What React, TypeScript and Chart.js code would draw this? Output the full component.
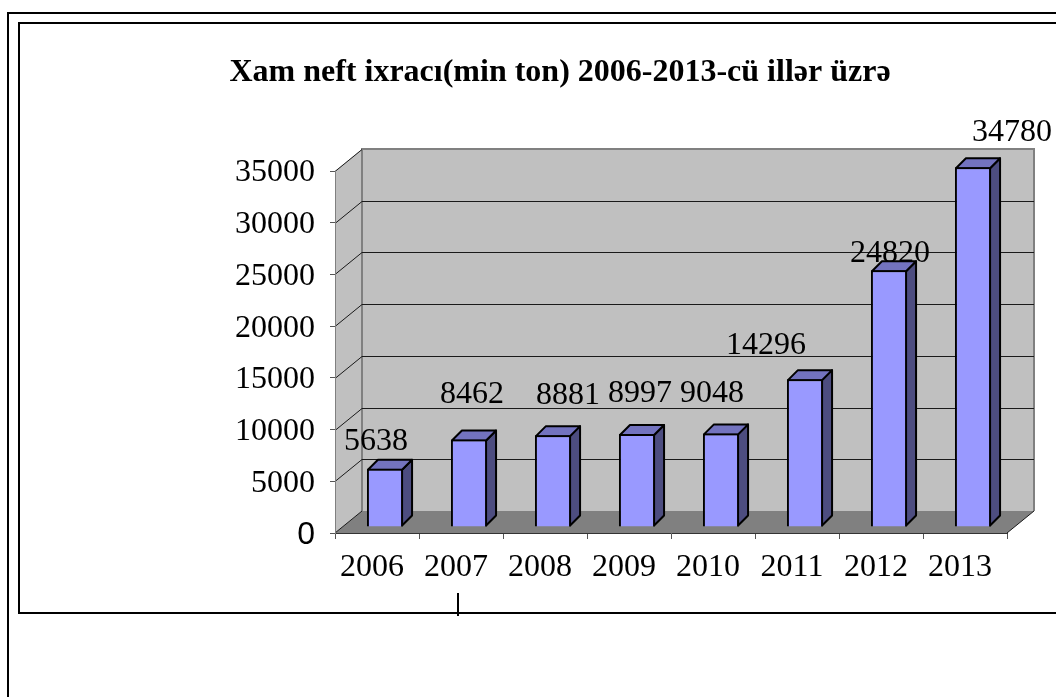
import React, { useEffect, useRef } from "react";
import { Chart, registerables } from "chart.js";

Chart.register(...registerables);

const categories = ["2006", "2007", "2008", "2009", "2010", "2011", "2012", "2013"];
const exportValues = [5638, 8462, 8881, 8997, 9048, 14296, 24820, 34780];
const yTicks = [0, 5000, 10000, 15000, 20000, 25000, 30000, 35000];
const titleText = "Xam neft ixracı(min ton) 2006-2013-cü illər üzrə";

// hand-placed label offsets from the top-centre of each bar, as in the source
const labelNudge = [
  [-9, -28], [3, -46], [15, -41], [3, -41], [-9, -41], [-39, -35], [1, -18], [39, -36],
];

const SERIF = "'Liberation Serif', serif";
const SANS = "'Liberation Sans', sans-serif";
const WALL = { dx: 27, dy: 22 };
const BAR_SHIFT = { dx: 8, dy: -6 };
const DEPTH = { dx: 10, dy: 10 };

const scene = {
  id: "scene",
  beforeDraw(chart: any) {
    const { ctx } = chart;
    const { left, right, top, bottom } = chart.chartArea;
    const y = chart.scales.y;
    ctx.save();
    ctx.fillStyle = "#fff";
    ctx.fillRect(0, 0, chart.width, chart.height);
    // page frames
    ctx.strokeStyle = "#000";
    ctx.lineWidth = 2;
    ctx.beginPath();
    ctx.moveTo(8, 697);
    ctx.lineTo(8, 13);
    ctx.lineTo(1056, 13);
    ctx.moveTo(1056, 613);
    ctx.lineTo(19, 613);
    ctx.lineTo(19, 23);
    ctx.lineTo(1056, 23);
    ctx.moveTo(458, 593);
    ctx.lineTo(458, 616);
    ctx.stroke();

    // side wall + back wall
    ctx.fillStyle = "#c0c0c0";
    ctx.strokeStyle = "#808080";
    ctx.lineWidth = 2;
    ctx.beginPath();
    ctx.moveTo(left, bottom);
    ctx.lineTo(left, top);
    ctx.lineTo(left + WALL.dx, top - WALL.dy);
    ctx.lineTo(right + WALL.dx, top - WALL.dy);
    ctx.lineTo(right + WALL.dx, bottom - WALL.dy);
    ctx.lineTo(left + WALL.dx, bottom - WALL.dy);
    ctx.closePath();
    ctx.fill();
    ctx.beginPath();
    ctx.moveTo(left + WALL.dx, bottom - WALL.dy);
    ctx.lineTo(left + WALL.dx, top - WALL.dy);
    ctx.lineTo(right + WALL.dx, top - WALL.dy);
    ctx.lineTo(right + WALL.dx, bottom - WALL.dy);
    ctx.stroke();

    // floor
    ctx.fillStyle = "#808080";
    ctx.beginPath();
    ctx.moveTo(left, bottom);
    ctx.lineTo(left + WALL.dx, bottom - WALL.dy);
    ctx.lineTo(right + WALL.dx, bottom - WALL.dy);
    ctx.lineTo(right, bottom);
    ctx.closePath();
    ctx.fill();

    // grid lines
    ctx.strokeStyle = "#1a1a1a";
    ctx.lineWidth = 1;
    yTicks.slice(1).forEach((v) => {
      const p = Math.round(y.getPixelForValue(v)) + 0.5;
      ctx.beginPath();
      ctx.moveTo(left, p);
      ctx.lineTo(left + WALL.dx, p - WALL.dy);
      if (v < 35000) ctx.lineTo(right + WALL.dx, p - WALL.dy);
      ctx.stroke();
    });
    // floor front corner stroke
    ctx.beginPath();
    ctx.moveTo(left, bottom);
    ctx.lineTo(left + WALL.dx, bottom - WALL.dy);
    ctx.moveTo(right, bottom);
    ctx.lineTo(right + WALL.dx, bottom - WALL.dy);
    ctx.stroke();

    // title
    ctx.fillStyle = "#000";
    ctx.font = `bold 32px ${SERIF}`;
    ctx.textAlign = "center";
    ctx.textBaseline = "middle";
    ctx.fillText(titleText, 560, 73);
    ctx.restore();
  },
  beforeDatasetDraw(chart: any, args: any) {
    const { ctx } = chart;
    const els = chart.getDatasetMeta(args.index).data;
    ctx.save();
    ctx.translate(BAR_SHIFT.dx, BAR_SHIFT.dy);
    ctx.lineWidth = 2;
    ctx.strokeStyle = "#000";
    ctx.lineJoin = "round";
    els.forEach((el: any) => {
      const l = el.x - el.width / 2 + 1;
      const r = el.x + el.width / 2 - 1;
      const t = el.y + 1;
      const b = el.base - 1;
      ctx.fillStyle = "#4d4d80";
      ctx.beginPath();
      ctx.moveTo(r, t);
      ctx.lineTo(r + DEPTH.dx, t - DEPTH.dy);
      ctx.lineTo(r + DEPTH.dx, b - DEPTH.dy);
      ctx.lineTo(r, b);
      ctx.closePath();
      ctx.fill();
      ctx.stroke();
      ctx.fillStyle = "#7373bf";
      ctx.beginPath();
      ctx.moveTo(l, t);
      ctx.lineTo(l + DEPTH.dx, t - DEPTH.dy);
      ctx.lineTo(r + DEPTH.dx, t - DEPTH.dy);
      ctx.lineTo(r, t);
      ctx.closePath();
      ctx.fill();
      ctx.stroke();
    });
  },
  afterDatasetDraw(chart: any) {
    chart.ctx.restore();
  },
  afterDraw(chart: any) {
    const { ctx } = chart;
    const els = chart.getDatasetMeta(0).data;
    ctx.save();
    ctx.fillStyle = "#000";
    ctx.font = `32px ${SERIF}`;
    ctx.textAlign = "center";
    ctx.textBaseline = "middle";
    els.forEach((el: any, i: number) => {
      const [dx, dy] = labelNudge[i];
      ctx.fillText(String(exportValues[i]), el.x + BAR_SHIFT.dx + dx, el.y + BAR_SHIFT.dy + dy + 1);
    });
    ctx.restore();
  },
};

export default function App() {
  const ref = useRef<HTMLCanvasElement>(null);
  useEffect(() => {
    document.body.style.margin = "0";
    const chart = new Chart(ref.current!, {
      type: "bar",
      data: {
        labels: categories,
        datasets: [
          {
            data: exportValues,
            backgroundColor: "#9999ff",
            borderColor: "#000",
            borderWidth: 2,
            barPercentage: 0.43,
            categoryPercentage: 1,
            clip: false,
          } as any,
        ],
      },
      options: {
        animation: false,
        responsive: false,
        layout: { padding: { top: 171, right: 49, left: 0, bottom: 0 } },
        plugins: { legend: { display: false }, title: { display: false }, tooltip: { enabled: false } },
        scales: {
          x: {
            grid: { drawOnChartArea: false, drawTicks: true, tickLength: 6, color: "#555" },
            border: { color: "#333", width: 1 },
            ticks: {
              color: "#000",
              font: { family: SERIF, size: 32 },
              padding: 9,
              labelOffset: -5,
              maxRotation: 0,
              autoSkip: false,
            },
            afterFit: (s: any) => { s.height = 164; },
          },
          y: {
            min: 0,
            max: 35000,
            afterBuildTicks: (s: any) => { s.ticks = yTicks.map((value) => ({ value })); },
            grid: { drawOnChartArea: false, drawTicks: true, tickLength: 5, color: "#555" },
            border: { color: "#808080", width: 1 },
            ticks: {
              color: "#000",
              padding: 15,
              labelOffset: 2,
              callback: (v: any) => String(v),
              font: (c: any) =>
                c.tick && c.tick.value === 0
                  ? { family: SANS, size: 32 }
                  : { family: SERIF, size: 32 },
            },
            afterFit: (s: any) => { s.width = 335; },
          },
        },
      },
      plugins: [scene],
    });
    return () => chart.destroy();
  }, []);
  return <canvas ref={ref} width={1056} height={697} style={{ display: "block" }} />;
}
